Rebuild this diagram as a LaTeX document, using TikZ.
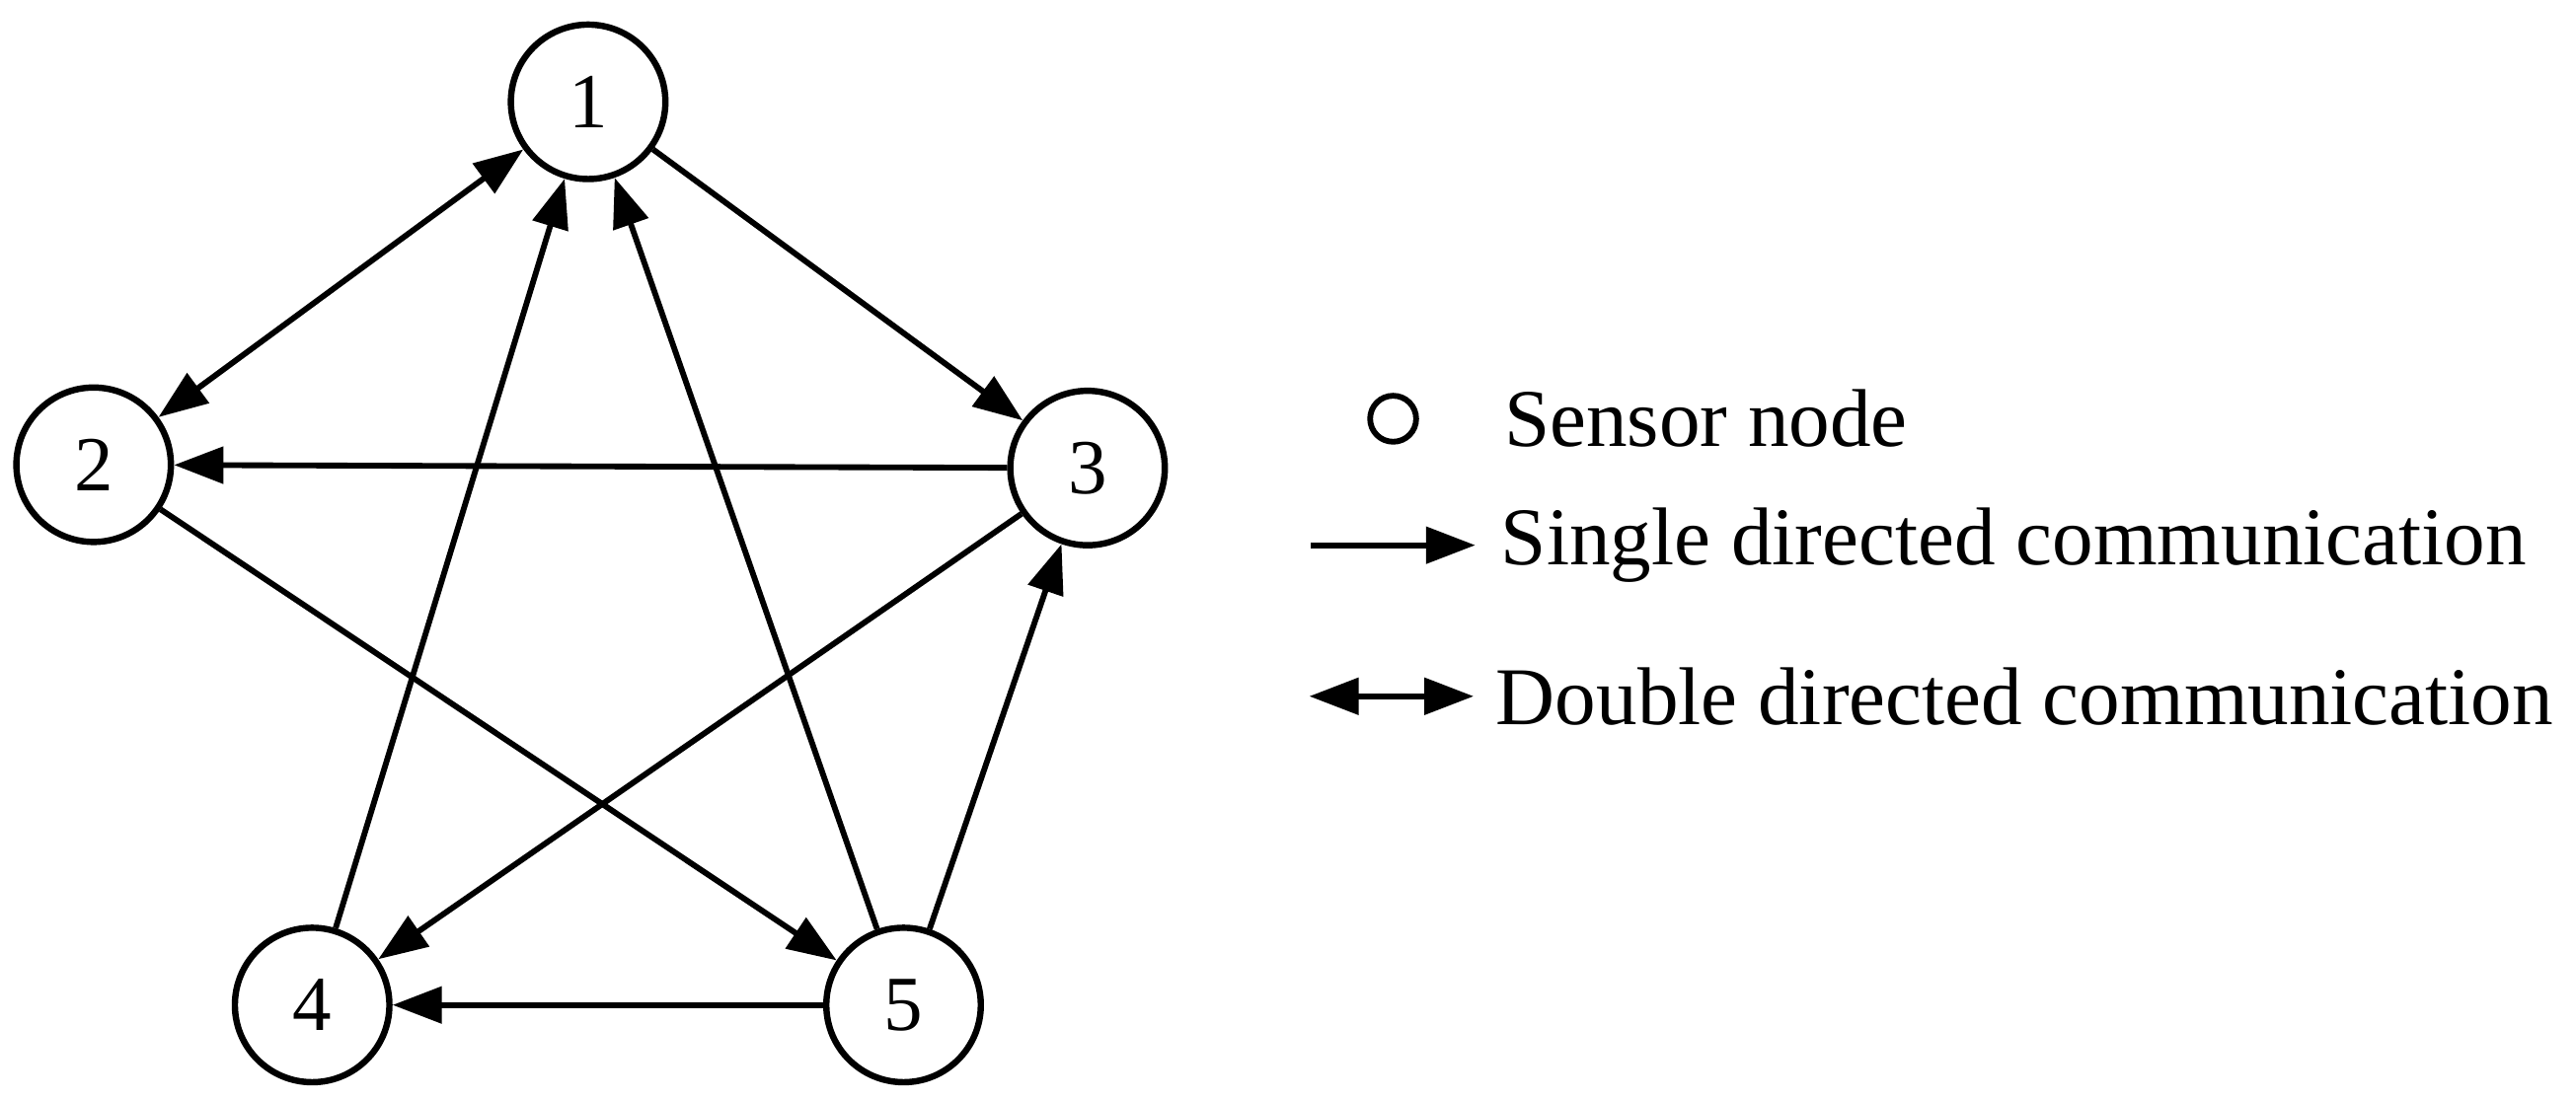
\documentclass[tikz,border=0pt]{standalone}
\usepackage{fontspec}
\setmainfont{Liberation Serif}
\usetikzlibrary{arrows.meta}
\begin{document}
\begin{tikzpicture}[x=0.01cm,y=-0.01cm,
  nd/.style={circle,draw,line width=1.1pt,minimum size=0.94cm,inner sep=0pt,font=\fontsize{13.5}{13.5}\selectfont},
  ed/.style={line width=1pt,-{Triangle[length=0.3cm,width=0.22cm]}},
  dd/.style={line width=1pt,{Triangle[length=0.3cm,width=0.22cm]}-{Triangle[length=0.3cm,width=0.22cm]}},
  lab/.style={anchor=west,font=\fontsize{14.2}{14.2}\selectfont,inner sep=0pt}]
\useasboundingbox (0,0) rectangle (1568,669);
\node[nd] (n1) at (358,62) {1};
\node[nd] (n2) at (57,283) {2};
\node[nd] (n3) at (662,285) {3};
\node[nd] (n4) at (190,612) {4};
\node[nd] (n5) at (550,612) {5};
\draw[dd] (n2) -- (n1);
\draw[ed] (n1) -- (n3);
\draw[ed] (n3) -- (n2);
\draw[ed] (n2) -- (n5);
\draw[ed] (n3) -- (n4);
\draw[ed] (n5) -- (n3);
\draw[ed] (n5) -- (n1);
\draw[ed] (n4) -- (n1);
\draw[ed] (n5) -- (n4);
\node[circle,draw,line width=1pt,minimum size=0.28cm,inner sep=0pt] (lc) at (848,255) {};
\node[lab] (t1) at (915,255) {Sensor node};
\coordinate (a1) at (798,332);
\coordinate (b1) at (898,332);
\node[lab] (t2) at (913,332) {Single directed communication};
\draw[ed] (a1) -- (b1);
\coordinate (a2) at (797,424);
\coordinate (b2) at (897,424);
\node[lab] (t3) at (910,424) {Double directed communication};
\draw[dd] (a2) -- (b2);
\end{tikzpicture}
\end{document}
